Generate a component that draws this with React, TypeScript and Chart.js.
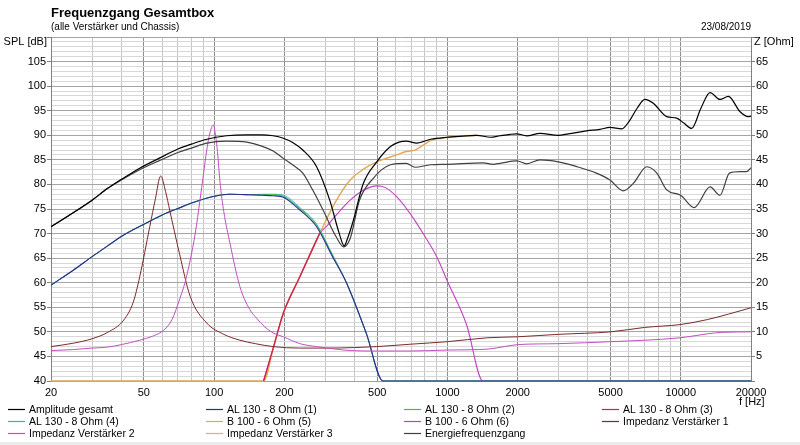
import React, { useEffect, useRef } from "react";
import { Chart, registerables } from "chart.js";

Chart.register(...registerables);

// ---------- texts ----------
const TITLE = "Frequenzgang Gesamtbox";
const SUBTITLE = "(alle Verstärker und Chassis)";
const DATE = "23/08/2019";
const Y_TITLE = "SPL [dB]";
const Y2_TITLE = "Z [Ohm]";
const X_TITLE = "f [Hz]";

// ---------- axes ----------
const xGridValues = [20, 30, 40, 50, 60, 70, 80, 90, 100, 200, 300, 400, 500, 600, 700, 800, 900, 1000, 2000, 3000, 4000, 5000, 6000, 7000, 8000, 9000, 10000, 20000];
const xLabelValues = [20, 50, 100, 200, 500, 1000, 2000, 5000, 10000, 20000];

// ---------- series (SPL in dB) ----------
const ampFreq = [20, 25, 30, 35, 40, 48, 58, 70, 80, 93, 113, 138, 160, 179, 198, 218, 240, 275, 313, 344, 361, 375, 392, 436, 498, 570, 620, 666, 739, 846, 1000, 1335, 1530, 1680, 1860, 1981, 2186, 2493, 2987, 3300, 3953, 4500, 4973, 5585, 6058, 6500, 7025, 7626, 8703, 9605, 10300, 11140, 12200, 13350, 14730, 15990, 17950, 19470, 20000];
const ampSPL = [71.4, 74.3, 76.8, 79.2, 81.0, 83.3, 85.3, 87.2, 88.2, 89.2, 89.9, 90.1, 90.1, 89.9, 89.4, 88.5, 87.0, 83.6, 76.8, 70.0, 67.5, 69.3, 72.1, 80.2, 84.6, 87.7, 88.6, 88.8, 88.4, 89.2, 89.6, 90.0, 89.6, 89.9, 90.2, 90.3, 89.9, 90.4, 90.0, 90.3, 90.9, 91.2, 91.6, 91.3, 93.1, 95.5, 97.3, 96.5, 93.8, 93.5, 92.5, 91.4, 95.5, 98.7, 97.3, 97.9, 94.8, 93.8, 93.9];

const enFreq = [20, 25, 30, 35, 40, 48, 58, 70, 80, 93, 113, 138, 160, 179, 198, 220, 240, 265, 293, 333, 359, 383, 420, 480, 570, 666, 726, 846, 1000, 1425, 1570, 1680, 1981, 2186, 2493, 2987, 3600, 4350, 4973, 5670, 6260, 7160, 7900, 8703, 9990, 11430, 13350, 14730, 16170, 17950, 19140, 20000];
const enSPL = [71.4, 74.3, 76.8, 79.2, 80.9, 83.0, 84.8, 86.5, 87.4, 88.4, 88.8, 88.6, 87.8, 86.8, 85.3, 83.8, 82.3, 78.8, 74.8, 69.4, 67.3, 69.0, 76.8, 81.2, 84.0, 84.3, 83.5, 84.0, 84.1, 84.4, 84.1, 84.3, 84.8, 84.2, 85.0, 84.6, 83.6, 82.3, 80.9, 78.7, 80.2, 83.6, 82.3, 78.9, 77.8, 75.3, 79.5, 77.8, 82.3, 82.6, 82.6, 83.4];

const alFreq = [20, 25, 30, 35, 40, 51, 60, 70, 80, 98, 117, 142, 160, 179, 198, 233, 275, 320, 370, 449, 530, 20000];
const al1SPL = [59.5, 62.6, 65.3, 67.5, 69.4, 72.1, 73.8, 75.1, 76.2, 77.5, 78.0, 77.9, 77.8, 77.7, 77.4, 74.8, 71.4, 65.5, 59.9, 49.7, 40, 40];
const al2SPL = [59.5, 62.6, 65.3, 67.5, 69.4, 72.1, 73.8, 75.1, 76.2, 77.5, 78.0, 77.9, 77.9, 77.9, 77.6, 75.1, 71.7, 65.8, 59.9, 49.7, 40, 40];
const al4SPL = [59.5, 62.6, 65.3, 67.5, 69.4, 72.1, 73.8, 75.1, 76.2, 77.5, 78.0, 77.9, 78.0, 78.0, 77.8, 75.3, 71.9, 65.9, 59.9, 49.7, 40, 40];

const al3Freq = [163, 180, 198, 233, 284];
const al3SPL = [40, 47, 53.8, 61.2, 70.1];

const b5Freq = [20, 158, 163, 180, 198, 233, 284, 330, 383, 440, 498, 606, 666, 727, 787, 846, 1000, 1335];
const b5SPL = [40, 40, 40, 47, 53.8, 61.2, 70.1, 76.3, 80.9, 83.2, 84.6, 86.0, 86.7, 87.0, 88.0, 88.9, 89.6, 90.0];

const b6Freq = [163, 180, 198, 233, 270, 284, 304, 330, 383, 440, 498, 540, 606, 691, 787, 900, 1000, 1209, 1420, 20000];
const b6SPL = [40, 47, 53.8, 61.2, 68.0, 70.1, 71.5, 73.5, 76.8, 78.9, 79.7, 79.4, 77.5, 74.1, 70.0, 65.3, 60.3, 51.4, 40, 40];

// ---------- impedance series (Ohm) ----------
const imp1Freq = [20, 25, 30, 35, 41, 45, 48, 53, 56, 59, 62, 64.5, 71, 79, 93, 110, 129, 150, 179, 233, 300, 400, 498, 700, 1000, 1490, 2000, 3000, 5000, 7000, 10000, 13000, 16000, 20000];
const imp1Z = [7.0, 7.7, 8.6, 9.9, 12.4, 16.0, 21.2, 31.4, 37.0, 41.7, 38.5, 34.8, 26.0, 17.2, 11.8, 9.5, 8.3, 7.6, 7.0, 6.7, 6.7, 6.8, 7.0, 7.5, 8.0, 8.8, 9.0, 9.5, 10.0, 10.9, 11.5, 12.5, 13.6, 14.9];

const imp2Freq = [20, 25, 30, 35, 40, 48, 55, 61, 66, 71, 75, 79, 83, 87, 90, 93, 96, 98, 99.5, 101, 103, 106, 110, 117, 129, 142, 152, 165, 179, 198, 233, 275, 330, 383, 500, 700, 1000, 1500, 1750, 2000, 3000, 5000, 7000, 10000, 13000, 15000, 20000];
const imp2Z = [6.2, 6.4, 6.7, 6.9, 7.4, 8.3, 9.2, 10.4, 12.5, 16.5, 20.0, 24.6, 30.0, 36.8, 42.0, 47.0, 50.5, 51.8, 52.1, 50.5, 47.5, 40.5, 34.5, 28.0, 19.2, 14.6, 12.8, 11.0, 9.8, 9.0, 7.6, 7.0, 6.5, 6.2, 6.1, 6.1, 6.3, 6.5, 7.0, 7.4, 7.6, 8.0, 8.3, 8.8, 9.6, 9.9, 10.0];

const imp3Freq: number[] = [];
const imp3Z: number[] = [];

// ---------- legend ----------
const legendLabels = [
  "Amplitude gesamt", "AL 130 - 8 Ohm (1)", "AL 130 - 8 Ohm (2)", "AL 130 - 8 Ohm (3)",
  "AL 130 - 8 Ohm (4)", "B 100 - 6 Ohm (5)", "B 100 - 6 Ohm (6)", "Impedanz Verstärker 1",
  "Impedanz Verstärker 2", "Impedanz Verstärker 3", "Energiefrequenzgang",
];
const legendColors = [
  "#000000", "#2a2a9a", "#40c040", "#d02050",
  "#30b8b8", "#e0a850", "#c040c0", "#7a2a2a",
  "#c050c0", "#e0b070", "#404040",
];

const FONT = '"Liberation Sans", Arial, sans-serif';

function pts(f: number[], v: number[]) {
  return f.map((x, i) => ({ x, y: v[i] }));
}

const overlay = {
  id: "overlay",
  beforeDraw(chart: any) {
    const ctx = chart.ctx;
    ctx.save();
    ctx.fillStyle = "#ffffff";
    ctx.fillRect(0, 0, chart.width, chart.height);
    ctx.restore();
  },
  afterDraw(chart: any) {
    const ctx = chart.ctx;
    const a = chart.chartArea;
    ctx.save();
    ctx.fillStyle = "#000";
    ctx.textBaseline = "alphabetic";
    ctx.textAlign = "left";
    ctx.font = `bold 13px ${FONT}`;
    ctx.fillText(TITLE, a.left, 17);
    ctx.font = `10px ${FONT}`;
    ctx.fillText(SUBTITLE, a.left, 30);
    ctx.textAlign = "right";
    ctx.fillText(DATE, a.right, 30);
    ctx.font = `11px ${FONT}`;
    ctx.fillText(Y_TITLE, a.left - 4, 45);
    ctx.textAlign = "left";
    ctx.fillText(Y2_TITLE, a.right + 3, 45);
    ctx.fillText(X_TITLE, a.right - 12, 405);

    // legend
    const colX = [8, 206, 404, 602];
    const rowY = [409, 421, 433];
    ctx.font = `10.5px ${FONT}`;
    ctx.textBaseline = "middle";
    legendLabels.forEach((lab, i) => {
      const x = colX[i % 4];
      const y = rowY[Math.floor(i / 4)];
      ctx.strokeStyle = legendColors[i];
      ctx.lineWidth = 1.2;
      ctx.beginPath();
      ctx.moveTo(x, y + 0.5);
      ctx.lineTo(x + 17, y + 0.5);
      ctx.stroke();
      ctx.fillStyle = "#000";
      ctx.fillText(lab, x + 21, y + 1);
    });

    ctx.fillStyle = "#ececec";
    ctx.fillRect(0, 442, chart.width, chart.height - 442);
    ctx.restore();
  },
};

export default function App() {
  const ref = useRef<HTMLCanvasElement | null>(null);

  useEffect(() => {
    if (!ref.current) return;
    const common = { pointRadius: 0, cubicInterpolationMode: "monotone" as const, xAxisID: "x" };
    const chart = new Chart(ref.current, {
      type: "line",
      data: {
        datasets: [
          { ...common, label: legendLabels[0], data: pts(ampFreq, ampSPL), borderColor: legendColors[0], borderWidth: 1.2, yAxisID: "y", order: 0 },
          { ...common, label: legendLabels[10], data: pts(enFreq, enSPL), borderColor: legendColors[10], borderWidth: 1.2, yAxisID: "y", order: 1 },
          { ...common, label: legendLabels[8], data: pts(imp2Freq, imp2Z), borderColor: legendColors[8], borderWidth: 1, yAxisID: "y2", order: 2 },
          { ...common, label: legendLabels[7], data: pts(imp1Freq, imp1Z), borderColor: legendColors[7], borderWidth: 1, yAxisID: "y2", order: 3 },
          { ...common, label: legendLabels[9], data: pts(imp3Freq, imp3Z), borderColor: legendColors[9], borderWidth: 1, yAxisID: "y2", order: 4 },
          { ...common, label: legendLabels[3], data: pts(al3Freq, al3SPL), borderColor: legendColors[3], borderWidth: 1.3, yAxisID: "y", order: 5 },
          { ...common, label: legendLabels[1], data: pts(alFreq, al1SPL), borderColor: legendColors[1], borderWidth: 1.1, yAxisID: "y", order: 6, clip: false },
          { ...common, label: legendLabels[2], data: pts(alFreq, al2SPL), borderColor: legendColors[2], borderWidth: 1, yAxisID: "y", order: 7 },
          { ...common, label: legendLabels[4], data: pts(alFreq, al4SPL), borderColor: legendColors[4], borderWidth: 1, yAxisID: "y", order: 8 },
          { ...common, label: legendLabels[5], data: pts(b5Freq, b5SPL), borderColor: legendColors[5], borderWidth: 1.4, yAxisID: "y", order: 9, clip: false },
          { ...common, label: legendLabels[6], data: pts(b6Freq, b6SPL), borderColor: legendColors[6], borderWidth: 1.1, yAxisID: "y", order: 10 },
        ],
      },
      options: {
        responsive: false,
        animation: false,
        devicePixelRatio: 1,
        events: [],
        layout: { padding: { top: 37, left: 0, right: 0, bottom: 0 } },
        plugins: { legend: { display: false }, tooltip: { enabled: false }, title: { display: false } },
        scales: {
          x: {
            type: "logarithmic",
            min: 20,
            max: 20000,
            afterBuildTicks: (s: any) => { s.ticks = xGridValues.map((v) => ({ value: v })); },
            afterFit: (s: any) => { s.height = 64; },
            grid: {
              drawTicks: false,
              color: (c: any) => (c.tick && xLabelValues.includes(c.tick.value) ? "#8a8a8a" : "#c6c6c6"),
            },
            border: { color: "#a0a0a0" },
            ticks: {
              autoSkip: false,
              maxRotation: 0,
              padding: 5,
              color: "#000",
              font: { family: FONT, size: 11 },
              callback: (v: any) => (xLabelValues.includes(Number(v)) ? String(v) : ""),
            },
          },
          y: {
            position: "left",
            min: 40,
            max: 110,
            afterBuildTicks: (s: any) => {
              const t = [];
              for (let v = 40; v <= 110; v++) t.push({ value: v });
              s.ticks = t;
            },
            afterFit: (s: any) => { s.width = 51; },
            grid: {
              tickLength: 4,
              color: (c: any) => (c.tick && c.tick.value % 5 === 0 ? "#a4a4a4" : "#d8d8d8"),
              tickColor: (c: any) => (c.tick && c.tick.value % 5 === 0 ? "#808080" : "rgba(0,0,0,0)"),
            },
            border: { color: "#808080" },
            ticks: {
              autoSkip: false,
              padding: 1,
              color: "#000",
              font: { family: FONT, size: 11 },
              callback: (v: any) => (Number(v) % 5 === 0 && Number(v) < 110 ? String(v) : ""),
            },
          },
          y2: {
            position: "right",
            min: 0,
            max: 70,
            afterFit: (s: any) => { s.width = 49; },
            grid: { drawOnChartArea: false, tickLength: 4, tickColor: "#808080" },
            border: { color: "#808080" },
            ticks: {
              stepSize: 5,
              autoSkip: false,
              padding: 1,
              color: "#000",
              font: { family: FONT, size: 11 },
              callback: (v: any) => (Number(v) > 0 && Number(v) < 70 ? String(v) : ""),
            },
          },
        },
      } as any,
      plugins: [overlay],
    });
    return () => chart.destroy();
  }, []);

  return (
    <div style={{ position: "fixed", left: 0, top: 0, width: 800, height: 445, background: "#fff" }}>
      <canvas ref={ref} width={800} height={445} style={{ display: "block", width: 800, height: 445 }} />
    </div>
  );
}
